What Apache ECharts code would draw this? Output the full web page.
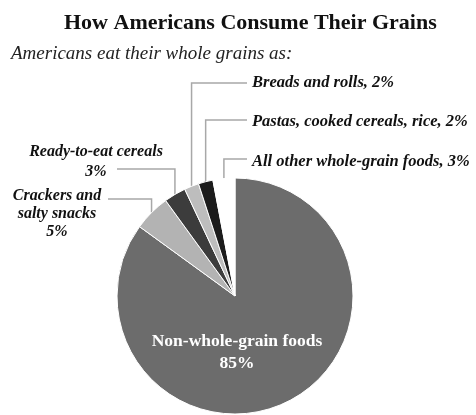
<!DOCTYPE html>
<html>
<head>
<meta charset="utf-8">
<script src="https://cdn.jsdelivr.net/npm/echarts@6/dist/echarts.min.js"></script>
<style>
  html, body { margin: 0; padding: 0; background: #fff; }
  #chart { width: 476px; height: 415px; }
</style>
</head>
<body>
<div id="chart"></div>
<script>
const categories = [
  'Non-whole-grain foods',
  'Crackers and salty snacks',
  'Ready-to-eat cereals',
  'Breads and rolls',
  'Pastas, cooked cereals, rice',
  'All other whole-grain foods'
]
const shares = [85, 5, 3, 2, 2, 3]

const COLORS = ['#6c6c6c', '#b3b3b3', '#3c3c3c', '#bdbdbd', '#1c1c1c', '#ffffff']
const SERIF = '"Liberation Serif", "DejaVu Serif", serif'

// where each outside label sits and where its leader turns
const LABEL_POS = [
  { x: 237, y: 352, align: 'center' },
  { x: 57, y: 214, align: 'center', lineY: 199, endX: 108 },
  { x: 96, y: 162, align: 'center', lineY: 169, endX: 117 },
  { x: 252, y: 83, align: 'left', lineY: 83, endX: 247 },
  { x: 252, y: 122, align: 'left', lineY: 120, endX: 247 },
  { x: 252, y: 162, align: 'left', lineY: 159, endX: 247 }
]

const chart = echarts.init(document.getElementById('chart'), null, { renderer: 'canvas' })

chart.setOption({
  animation: false,
  title: [
    {
      text: 'How Americans Consume Their Grains',
      left: 59,
      top: 7,
      textStyle: { fontFamily: SERIF, fontWeight: 'bold', fontSize: 22, color: '#111' }
    },
    {
      text: 'Americans eat their whole grains as:',
      left: 6,
      top: 39,
      textStyle: { fontFamily: SERIF, fontStyle: 'italic', fontWeight: 'normal', fontSize: 19, color: '#222' }
    }
  ],
  series: [{
    type: 'pie',
    center: [235, 296],
    radius: 118,
    startAngle: 90,
    clockwise: true,
    avoidLabelOverlap: false,
    emphasis: { disabled: true },
    itemStyle: { borderColor: '#fff', borderWidth: 1 },
    label: {
      show: true,
      fontFamily: SERIF,
      fontStyle: 'italic',
      fontWeight: 'bold',
      fontSize: 16.5,
      lineHeight: 18,
      color: '#111',
      formatter: '{b}, {c}%'
    },
    labelLine: {
      show: true,
      lineStyle: { color: '#a8a8a8', width: 1.5 }
    },
    labelLayout: (params) => {
      const pos = LABEL_POS[params.dataIndex]
      const out = { x: pos.x, y: pos.y, align: pos.align, verticalAlign: 'middle' }
      const pts = params.labelLinePoints
      if (pts && pos.lineY != null) {
        const p0 = pts[0]
        out.labelLinePoints = [[p0[0], p0[1]], [p0[0], pos.lineY], [pos.endX, pos.lineY]]
      }
      return out
    },
    data: categories.map((name, i) => {
      const item = { name, value: shares[i], itemStyle: { color: COLORS[i] } }
      if (i === 0) {
        item.label = {
          position: 'inside',
          formatter: '{b}\n{c}%',
          color: '#fff',
          fontStyle: 'normal',
          fontSize: 17.5,
          lineHeight: 22
        }
        item.labelLine = { show: false }
      } else if (i === 1) {
        item.label = { formatter: 'Crackers and\nsalty snacks\n{c}%', fontSize: 16 }
      } else if (i === 2) {
        item.label = { formatter: '{b}\n{c}%', fontSize: 16, lineHeight: 20 }
      }
      return item
    })
  }]
})
</script>
</body>
</html>
